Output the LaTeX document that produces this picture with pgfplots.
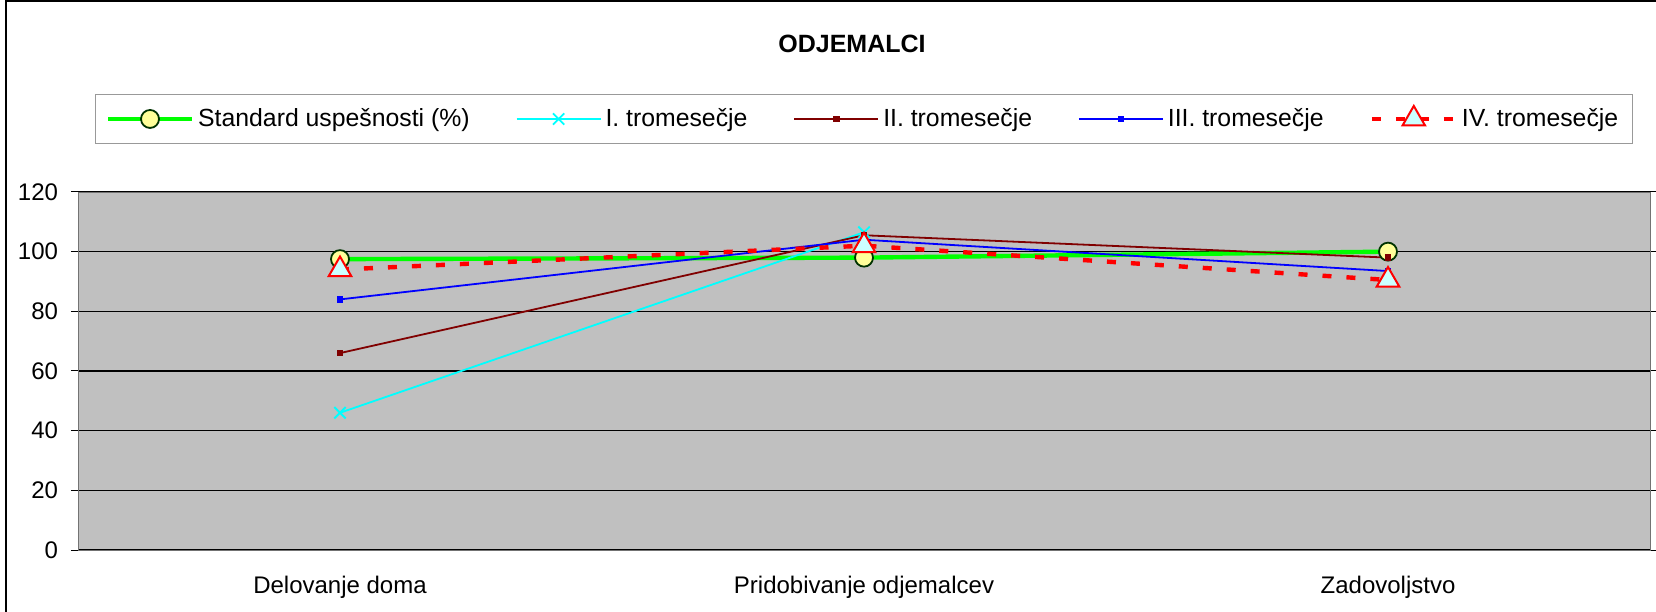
\documentclass[border=0pt]{standalone}
\usepackage{pgfplots}
\pgfplotsset{compat=1.18}
\usepackage{fontspec}
\setmainfont{Liberation Sans}
\definecolor{plotbg}{HTML}{C0C0C0}
\definecolor{stdgreen}{HTML}{00FF00}
\definecolor{qone}{HTML}{00FFFF}
\definecolor{qtwo}{HTML}{800000}
\definecolor{qthree}{HTML}{0000FF}
\definecolor{qfour}{HTML}{FF0000}
\definecolor{circfill}{HTML}{FFFF99}
\definecolor{circdraw}{HTML}{003300}
\definecolor{trifill}{HTML}{CCFFFF}
\begin{document}
\begin{tikzpicture}[font=\fontsize{12bp}{14bp}\selectfont]
\path[use as bounding box] (0,0) rectangle (828bp,306bp);
\draw[black, line width=0.6bp] (3bp,-5bp) -- (3bp,305.5bp) -- (835bp,305.5bp);
\node[font=\fontsize{12.5bp}{14bp}\selectfont\bfseries] at (426bp,284bp) {ODJEMALCI};
\begin{axis}[
  at={(39bp,31bp)}, anchor=south west,
  scale only axis, width=786bp, height=179bp,
  axis background/.style={fill=plotbg},
  axis line style={black!55},
  xmin=-0.5, xmax=2.5, ymin=0, ymax=120,
  xtick={0,1,2},
  xticklabels={Delovanje doma, Pridobivanje odjemalcev, Zadovoljstvo},
  x tick style={draw=none},
  minor xtick={-0.5,0.5,1.5,2.5},
  minor tick length=4bp,
  major tick length=3.5bp,
  tick align=outside,
  tick style={black, line width=0.5bp},
  ytick={0,20,...,120},
  ymajorgrids,
  major grid style={black, line width=0.6bp},
  xticklabel style={yshift=-6bp},
  yticklabel style={xshift=-3bp},
  /pgf/number format/assume math mode=true,
  legend columns=5,
  legend cell align=left,
  legend style={at={(0.5,1.204)}, anchor=center, draw=black!40, fill=white,
    font=\fontsize{12.4bp}{14bp}\selectfont,
    inner ysep=5bp, inner xsep=5bp,
    /tikz/every even column/.append style={column sep=21bp}},
  legend image code/.code={\draw[mark repeat=2,mark phase=2] plot coordinates {(0bp,0bp)(21bp,0bp)(42bp,0bp)};},
]
\addplot[stdgreen, line width=2.2bp, mark=*, mark size=4.5bp,
  mark options={fill=circfill, draw=circdraw, line width=0.9bp}]
  coordinates {(0,97.5) (1,98) (2,100)};
\addlegendentry{Standard uspešnosti (\%)}
\addplot[qone, line width=0.9bp, mark=x, mark size=4bp]
  coordinates {(0,46) (1,106.5)};
\addlegendentry{I. tromesečje}
\addplot[qtwo, line width=0.9bp, mark=square*, mark size=1.2bp]
  coordinates {(0,66) (1,105.5) (2,98)};
\addlegendentry{II. tromesečje}
\addplot[qthree, line width=0.9bp, mark=square*, mark size=1.2bp]
  coordinates {(0,84) (1,104) (2,93.5)};
\addlegendentry{III. tromesečje}
\addplot[qfour, line width=2.2bp, dash pattern=on 4.5bp off 7.5bp, mark=triangle*, mark size=6.5bp,
  mark options={solid, fill=trifill, draw=qfour, line width=1bp}]
  coordinates {(0,94) (1,102) (2,90.5)};
\addlegendentry{IV. tromesečje}
\end{axis}
\end{tikzpicture}
\end{document}
